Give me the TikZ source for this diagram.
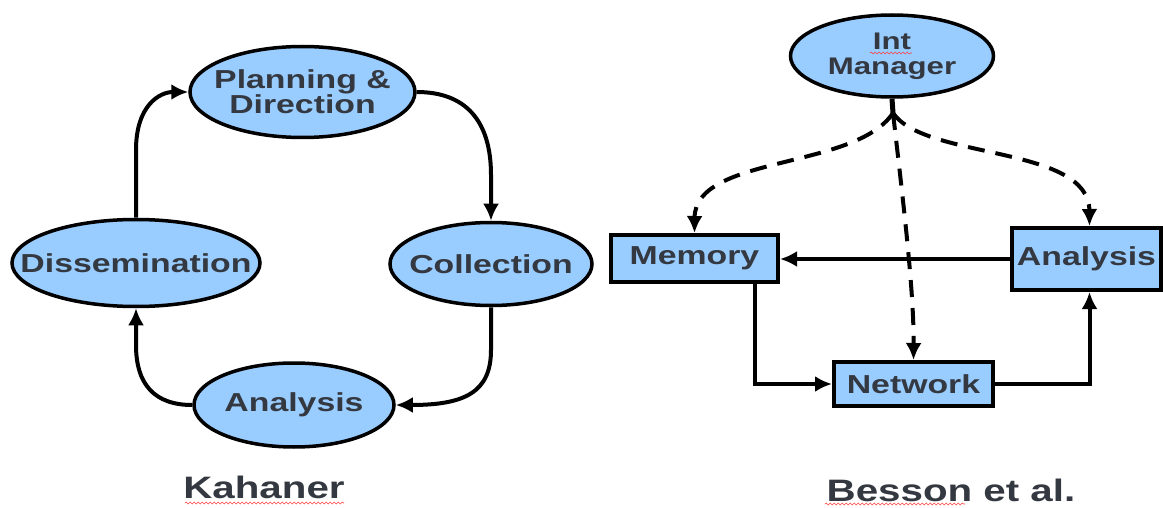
\documentclass[tikz,border=0pt]{standalone}
\usepackage{fontspec}
\newfontfamily\labfont{Liberation Sans}[FakeStretch=1.3]
\usetikzlibrary{shapes.geometric,arrows.meta,decorations.pathmorphing}
\definecolor{fillb}{RGB}{153,204,255}
\definecolor{txt}{RGB}{52,56,64}
\tikzset{
  lab/.style={font=\labfont\bfseries\fontsize{26}{25}\selectfont, text=txt, align=center},
  labs/.style={font=\labfont\bfseries\fontsize{24}{25}\selectfont, text=txt, align=center},
  capt/.style={font=\labfont\bfseries\fontsize{31}{33}\selectfont, text=txt},
  ell/.style={ellipse, draw, line width=3.5pt, fill=fillb, inner sep=0pt},
  boxn/.style={rectangle, draw, line width=4pt, fill=fillb, inner sep=0pt, lab},
  arr/.style={line width=4pt, -{Latex[length=17pt,width=16pt]}},
  darr/.style={arr, dash pattern=on 17pt off 11pt},
  wavy/.style={red!75, line width=0.6pt, decorate, decoration={snake, segment length=4pt, amplitude=0.9pt}},
}
\begin{document}
\begin{tikzpicture}[x=1pt,y=-1pt]
\useasboundingbox (0,0) rectangle (1163,508);
% ---------- Kahaner cycle ----------
\node[ell, minimum width=225pt, minimum height=91pt, label={[lab]center:{Planning \&\\Direction}}] (plan) at (302.5,92) {};
\node[ell, minimum width=248pt, minimum height=87pt, label={[lab]center:Dissemination}] (diss) at (136,263) {};
\node[ell, minimum width=202pt, minimum height=83pt, label={[lab]center:Collection}] (coll) at (491,264) {};
\node[ell, minimum width=200pt, minimum height=84pt, label={[lab]center:Analysis}] (ana) at (294,405) {};

\draw[arr] (diss.north) -- (136,150) .. controls (136,105) and (160,92) .. (plan.west);
\draw[arr] (plan.east) .. controls (465,92) and (491,120) .. (491,175) -- (coll.north);
\draw[arr] (coll.south) -- (491,350) .. controls (491,392) and (465,405) .. (ana.east);
\draw[arr] (ana.west) .. controls (155,405) and (136,385) .. (136,345) -- (diss.south);

\node[capt, anchor=base] (kah) at (264,498) {Kahaner};
\draw[wavy] (185,503) -- (344,503);

% ---------- Besson et al. ----------
\node[ell, minimum width=203pt, minimum height=82pt, label={[labs]center:{Int\\Manager}}] (mgr) at (892,56) {};
\draw[wavy] (870,53) -- (912,53);
\node[boxn, minimum width=167pt, minimum height=47pt] (mem) at (694.5,258.5) {Memory};
\node[boxn, minimum width=149pt, minimum height=62pt] (anab) at (1086.5,259) {Analysis};
\node[boxn, minimum width=159pt, minimum height=44pt] (net) at (913.5,384) {Network};

\coordinate (hub) at (893,113);
\draw[line width=5pt] (mgr.south) -- (hub);
\draw[darr] (hub) .. controls (855,170) and (695,155) .. (mem.north);
\draw[darr] (hub) .. controls (925,160) and (1089,145) .. ([xshift=3pt]anab.north);
\draw[darr] (hub) .. controls (903,200) and (914,290) .. (net.north);

\draw[arr] (anab.west) -- (anab.west -| mem.east);
\draw[arr] ([xshift=60pt]mem.south) |- (net.west);
\draw[arr] (net.east) -| ([xshift=3pt]anab.south);

\node[capt, anchor=base] (bes) at (951,501) {Besson et al.};
\draw[wavy] (825,504) -- (965,504);
\end{tikzpicture}
\end{document}
